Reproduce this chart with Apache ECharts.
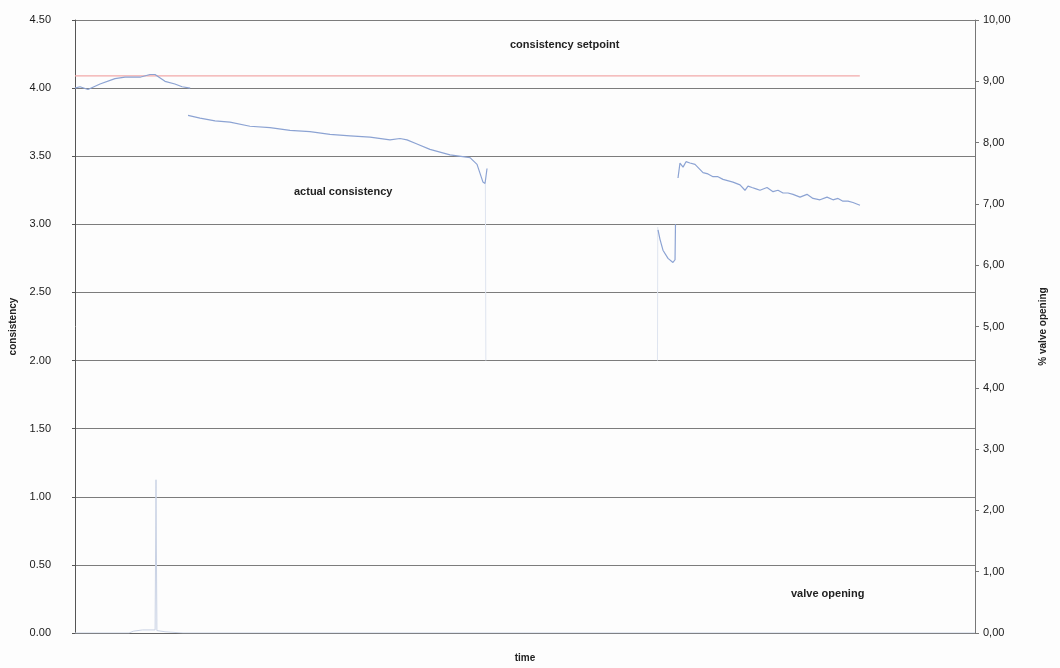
<!DOCTYPE html>
<html>
<head>
<meta charset="utf-8">
<script src="https://cdn.jsdelivr.net/npm/echarts@6/dist/echarts.min.js"></script>
<style>
html,body{margin:0;padding:0;background:#fff;}
#chart{width:1060px;height:668px;}
</style>
</head>
<body>
<div id="chart"></div>
<script>
// time axis in arbitrary units (0..100)
const setpointT = [0, 87.2];
const setpointV = [4.09, 4.09];

// actual consistency ('-' = gap)
const actualT = [0, 0.56, 1.44, 2.78, 4.44, 5.56, 7.22, 8.33, 8.89, 10, 11.1, 11.9, 12.8,
  12.81,
  12.56, 13.89, 15.56, 17.22, 19.44, 21.67, 23.89, 26.11, 28.33, 30.56, 32.78, 35.0, 36.11, 36.89, 38.0, 39.44, 41.67, 43.89, 44.67, 45.33, 45.56, 45.78,
  45.9,
  64.78, 65.0, 65.33, 65.89, 66.44, 66.67, 66.72,
  66.8,
  67.0, 67.22, 67.56, 67.89, 68.33, 68.89, 69.78, 70.33, 70.89, 71.44, 72.0, 73.11, 73.89, 74.44, 74.78, 75.22, 75.67, 76.11, 76.89, 77.56, 78.11, 78.67, 79.22, 79.78, 80.56, 81.33, 82.0, 82.78, 83.56, 84.22, 84.78, 85.33, 85.89, 86.44, 87.22];
const actualV = [4.00, 4.01, 3.99, 4.03, 4.07, 4.08, 4.08, 4.10, 4.10, 4.05, 4.03, 4.01, 4.00,
  '-',
  3.80, 3.78, 3.76, 3.75, 3.72, 3.71, 3.69, 3.68, 3.66, 3.65, 3.64, 3.62, 3.63, 3.62, 3.59, 3.55, 3.51, 3.49, 3.44, 3.31, 3.30, 3.41,
  '-',
  2.96, 2.89, 2.81, 2.75, 2.72, 2.74, 3.00,
  '-',
  3.34, 3.45, 3.42, 3.46, 3.45, 3.44, 3.38, 3.37, 3.35, 3.35, 3.33, 3.31, 3.29, 3.25, 3.28, 3.27, 3.26, 3.25, 3.27, 3.24, 3.25, 3.23, 3.23, 3.22, 3.20, 3.22, 3.19, 3.18, 3.20, 3.18, 3.19, 3.17, 3.17, 3.16, 3.14];

// faint transitions of the consistency signal
const transT = [45.6, 45.65, '-', 64.72, 64.75];
const transV = [3.30, 2.00, '-', 2.00, 2.98];

// valve opening (% , right axis)
const valveT = [0, 6.0, 6.5, 7.5, 8.9, 9.0, 9.1, 10.0, 12.0, 100];
const valveV = [0, 0, 0.03, 0.05, 0.05, 2.5, 0.04, 0.02, 0, 0];

const leftTicks = ['0.00','0.50','1.00','1.50','2.00','2.50','3.00','3.50','4.00','4.50'];

function pairs(t, v){
  const out = [];
  for (let i = 0; i < t.length; i++){
    if (t[i] === '-' || v[i] === '-') out.push(['-','-']); else out.push([t[i], v[i]]);
  }
  return out;
}

const chart = echarts.init(document.getElementById('chart'), null, {renderer:'canvas'});
const font = 'Liberation Sans, Arial, sans-serif';
chart.setOption({
  animation:false,
  backgroundColor:'#fdfdfd',
  grid:{left:75, right:85, top:20, bottom:35},
  xAxis:{
    type:'value', min:0, max:100,
    name:'time', nameLocation:'middle', nameGap:20,
    nameTextStyle:{fontFamily:font, fontSize:10, fontWeight:'bold', color:'#222'},
    axisLine:{show:true, lineStyle:{color:'#666', width:1}},
    axisTick:{show:false}, axisLabel:{show:false}, splitLine:{show:false}
  },
  yAxis:[{
    type:'value', min:0, max:4.5, interval:0.5, position:'left',
    name:'consistency', nameLocation:'middle', nameGap:56, nameRotate:90,
    nameTextStyle:{fontFamily:font, fontSize:10, fontWeight:'bold', color:'#222'},
    axisLine:{show:true, lineStyle:{color:'#555', width:1}},
    axisTick:{show:true, length:3, lineStyle:{color:'#555'}},
    axisLabel:{fontFamily:font, fontSize:11, color:'#1a1a1a', margin:24,
      formatter:(v)=>leftTicks[Math.round(v/0.5)]},
    splitLine:{show:true, lineStyle:{color:'#7c7c7c', width:1}}
  },{
    type:'value', min:0, max:10, interval:1, position:'right',
    name:'% valve opening', nameLocation:'middle', nameGap:63, nameRotate:90,
    nameTextStyle:{fontFamily:font, fontSize:10, fontWeight:'bold', color:'#222'},
    axisLine:{show:true, lineStyle:{color:'#777', width:1}},
    axisTick:{show:true, length:4, lineStyle:{color:'#777'}},
    axisLabel:{fontFamily:font, fontSize:11, color:'#1a1a1a', margin:8,
      formatter:(v)=>v.toFixed(2).replace('.', ',')},
    splitLine:{show:false}
  }],
  series:[
    {name:'consistency setpoint', type:'line', yAxisIndex:0, symbol:'none',
      lineStyle:{color:'#f2a9a9', width:1.2}, data:pairs(setpointT, setpointV)},
    {name:'transition', type:'line', yAxisIndex:0, symbol:'none', connectNulls:false,
      lineStyle:{color:'#dfe5f0', width:1}, data:pairs(transT, transV)},
    {name:'actual consistency', type:'line', yAxisIndex:0, symbol:'none', connectNulls:false,
      lineStyle:{color:'#8ca3d3', width:1.2}, data:pairs(actualT, actualV)},
    {name:'valve opening', type:'line', yAxisIndex:1, symbol:'none',
      lineStyle:{color:'#c9d2e4', width:1}, data:pairs(valveT, valveV)}
  ],
  graphic:[
    {type:'text', left:510, top:39, style:{text:'consistency setpoint', font:'bold 11px Liberation Sans, Arial, sans-serif', fill:'#222'}},
    {type:'text', left:294, top:186, style:{text:'actual consistency', font:'bold 11px Liberation Sans, Arial, sans-serif', fill:'#222'}},
    {type:'text', left:791, top:588, style:{text:'valve opening', font:'bold 11px Liberation Sans, Arial, sans-serif', fill:'#222'}}
  ]
});
</script>
</body>
</html>
